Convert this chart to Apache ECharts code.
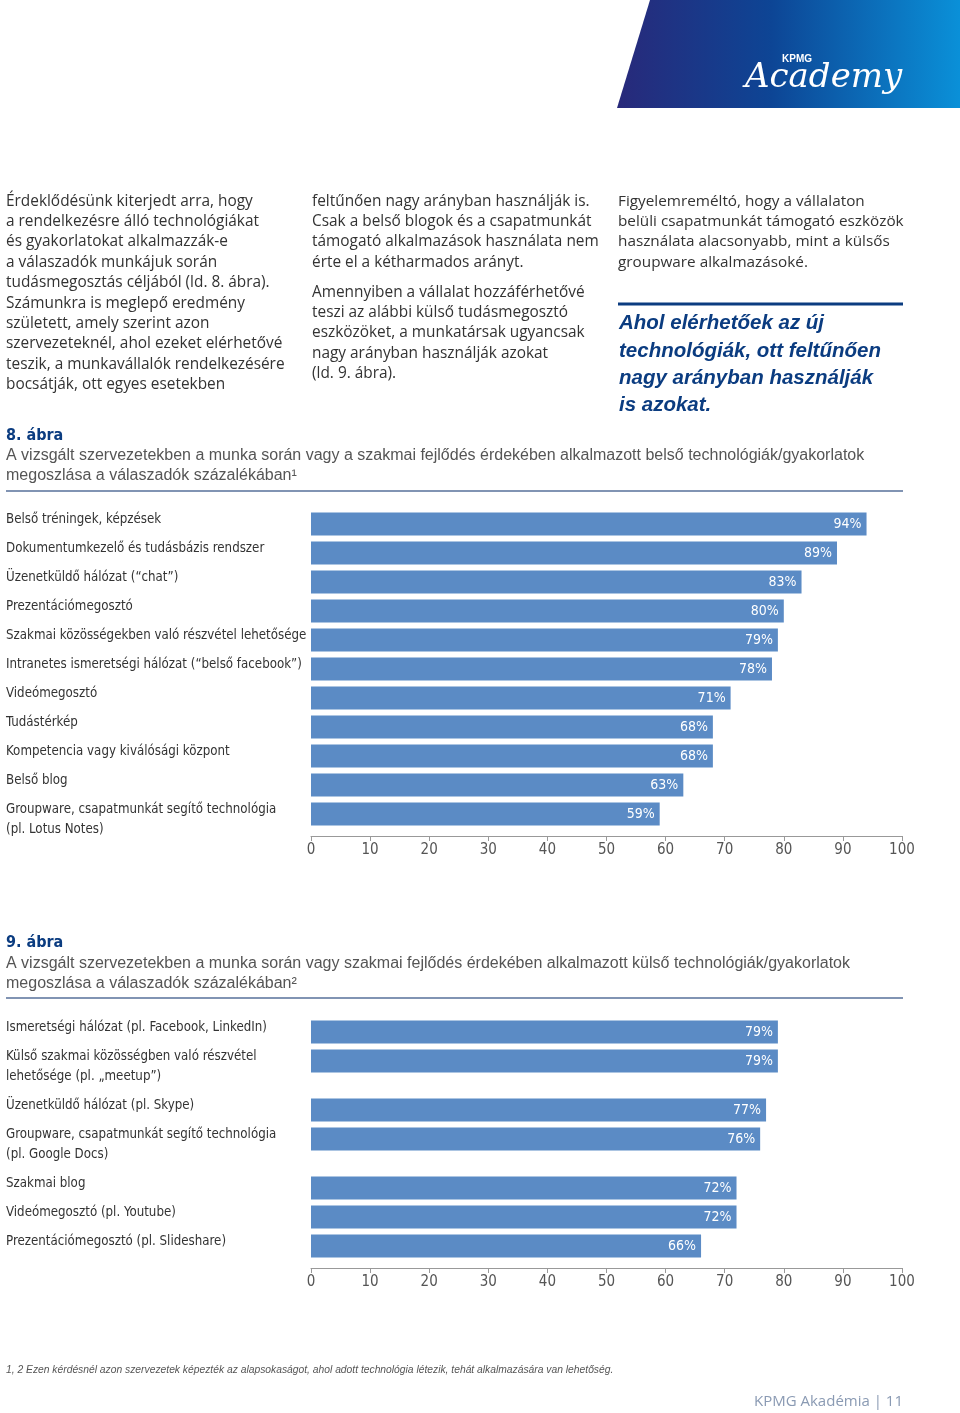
<!DOCTYPE html>
<html><head><meta charset="utf-8">
<script src="https://cdn.jsdelivr.net/npm/echarts@6/dist/echarts.min.js"></script>
<style>html,body{margin:0;padding:0;background:#fff}#c{width:960px;height:1413px}</style>
</head><body><div id="c"></div><script>
// ---- data ----
const intLabels = [
  'Belső tréningek, képzések',
  'Dokumentumkezelő és tudásbázis rendszer',
  'Üzenetküldő hálózat (“chat”)',
  'Prezentációmegosztó',
  'Szakmai közösségekben való részvétel lehetősége',
  'Intranetes ismeretségi hálózat (“belső facebook”)',
  'Videómegosztó',
  'Tudástérkép',
  'Kompetencia vagy kiválósági központ',
  'Belső blog',
  'Groupware, csapatmunkát segítő technológia\n(pl. Lotus Notes)'
];
const intValues = [94, 89, 83, 80, 79, 78, 71, 68, 68, 63, 59];

const extLabels = [
  'Ismeretségi hálózat (pl. Facebook, LinkedIn)',
  'Külső szakmai közösségben való részvétel\nlehetősége (pl. „meetup”)',
  'Üzenetküldő hálózat (pl. Skype)',
  'Groupware, csapatmunkát segítő technológia\n(pl. Google Docs)',
  'Szakmai blog',
  'Videómegosztó (pl. Youtube)',
  'Prezentációmegosztó (pl. Slideshare)'
];
const extValues = [79, 79, 77, 76, 72, 72, 66];
const extGroupSizes = [2, 2, 3];

const axisMin = 0, axisMax = 100, axisStep = 10;

// ---- page text ----
const col1 = ['Érdeklődésünk kiterjedt arra, hogy','a rendelkezésre álló technológiákat','és gyakorlatokat alkalmazzák-e','a válaszadók munkájuk során','tudásmegosztás céljából (ld. 8. ábra).','Számunkra is meglepő eredmény','született, amely szerint azon','szervezeteknél, ahol ezeket elérhetővé','teszik, a munkavállalók rendelkezésére','bocsátják, ott egyes esetekben'];
const col2a = ['feltűnően nagy arányban használják is.','Csak a belső blogok és a csapatmunkát','támogató alkalmazások használata nem','érte el a kétharmados arányt.'];
const col2b = ['Amennyiben a vállalat hozzáférhetővé','teszi az alábbi külső tudásmegosztó','eszközöket, a munkatársak ugyancsak','nagy arányban használják azokat','(ld. 9. ábra).'];
const col3 = ['Figyelemreméltó, hogy a vállalaton','belüli csapatmunkát támogató eszközök','használata alacsonyabb, mint a külsős','groupware alkalmazásoké.'];
const quote = ['Ahol elérhetőek az új','technológiák, ott feltűnően','nagy arányban használják','is azokat.'];
const fig8Title = '8. ábra';
const fig8Caption = ['A vizsgált szervezetekben a munka során vagy a szakmai fejlődés érdekében alkalmazott belső technológiák/gyakorlatok','megoszlása a válaszadók százalékában¹'];
const fig9Title = '9. ábra';
const fig9Caption = ['A vizsgált szervezetekben a munka során vagy szakmai fejlődés érdekében alkalmazott külső technológiák/gyakorlatok','megoszlása a válaszadók százalékában²'];
const footnote = '1, 2 Ezen kérdésnél azon szervezetek képezték az alapsokaságot, ahol adott technológia létezik, tehát alkalmazására van lehetőség.';
const footer = 'KPMG Akadémia | 11';

const NARROW = '"Liberation Sans Narrow", "DejaVu Sans Condensed", "Roboto Condensed", sans-serif';
const BODY = '"Open Sans", Lato, sans-serif';
const BAR = '#5b8bc5';

function txt(x, y, lines, font, fill, lh, extra) {
  return Object.assign({ type: 'text', x: x, y: y, silent: true,
    style: Object.assign({ text: lines.join('\n'), font: font, fill: fill, lineHeight: lh, verticalAlign: 'top', align: 'left' }, extra || {}) });
}

const graphic = [
  { type: 'polygon', silent: true, shape: { points: [[650,0],[960,0],[960,108],[617,108]] },
    style: { fill: new echarts.graphic.LinearGradient(0,0,1,0,[{offset:0,color:'#28297a'},{offset:0.45,color:'#0d4595'},{offset:1,color:'#0a90d8'}]) } },
  txt(782, 54, ['KPMG'], 'bold 10px "Liberation Sans", sans-serif', '#fff', 10),
  txt(745, 60, ['Academy'], 'italic 34px "DejaVu Serif", serif', '#fff', 36),
  txt(6, 191, col1, '15.4px ' + BODY, '#333', 20.4),
  txt(312, 191, col2a, '15.4px ' + BODY, '#333', 20.4),
  txt(312, 282, col2b, '15.4px ' + BODY, '#333', 20.4),
  txt(618, 191, col3, '15.3px ' + BODY, '#333', 20.4),
  { type: 'line', silent: true, shape: { x1: 618, y1: 304, x2: 903, y2: 304 }, style: { stroke: '#0b3c80', lineWidth: 3 } },
  txt(619, 310, quote, 'italic bold 20.5px "Liberation Sans", sans-serif', '#0b3c80', 27.3),
  txt(6, 427, [fig8Title], 'bold 16px ' + NARROW, '#0b3c80', 18),
  txt(6, 445, fig8Caption, '16px "Liberation Sans", sans-serif', '#555', 20.5),
  { type: 'line', silent: true, shape: { x1: 6, y1: 491, x2: 903, y2: 491 }, style: { stroke: '#8194b3', lineWidth: 2 } },
  txt(6, 934, [fig9Title], 'bold 16px ' + NARROW, '#0b3c80', 18),
  txt(6, 953, fig9Caption, '16px "Liberation Sans", sans-serif', '#555', 20.5),
  { type: 'line', silent: true, shape: { x1: 6, y1: 998, x2: 903, y2: 998 }, style: { stroke: '#8194b3', lineWidth: 2 } },
  txt(6, 1365, [footnote], 'italic 10.3px "Liberation Sans", sans-serif', '#555', 11),
  txt(903, 1394, [footer], '15px "Open Sans", sans-serif', '#8a9ab3', 16, { align: 'right' })
];

// ---- chart layout ----
const gridLeft = 311, gridWidth = 591, band = 29;
const grids = [{ left: gridLeft, width: gridWidth, top: 509.5, height: band * intValues.length }];
const extTops = [1017.5, 1095.5, 1173.5];
extGroupSizes.forEach((n, i) => grids.push({ left: gridLeft, width: gridWidth, top: extTops[i], height: band * n }));

function xAx(gi, show) {
  return { type: 'value', gridIndex: gi, min: axisMin, max: axisMax, interval: axisStep, show: show, offset: 7.5,
    axisLine: { show: true, lineStyle: { color: '#999', width: 1 } },
    axisTick: { show: true, length: 5, lineStyle: { color: '#999' } },
    axisLabel: { color: '#555', fontSize: 15, fontFamily: NARROW, margin: 7 },
    splitLine: { show: false } };
}
// category label: label lines sit slightly above the bar centre (spacer lines shift them)
function catLabel(v) {
  const lines = v.split('\n').map(l => '{t|' + l + '}');
  return lines.length > 1 ? '{s12| }\n' + lines.join('\n') : lines[0] + '\n{s8| }';
}
function yAx(gi, labels) {
  return { type: 'category', gridIndex: gi, inverse: true, data: labels,
    axisLine: { show: false }, axisTick: { show: false },
    axisLabel: { interval: 0, hideOverlap: false, align: 'left', margin: gridLeft - 6, formatter: catLabel,
      rich: {
        t: { color: '#333', fontSize: 13.2, fontFamily: NARROW, lineHeight: 20, align: 'left' },
        s8: { fontSize: 1, lineHeight: 8 },
        s12: { fontSize: 1, lineHeight: 12 }
      } } };
}
function barSeries(gi, values) {
  return { type: 'bar', xAxisIndex: gi, yAxisIndex: gi, data: values, barWidth: 23,
    itemStyle: { color: BAR }, silent: true,
    label: { show: true, position: 'insideRight', distance: 5, formatter: '{c}%', color: '#fff', fontSize: 14, fontFamily: NARROW } };
}

const xAxis = [xAx(0, true)], yAxis = [yAx(0, intLabels)], series = [barSeries(0, intValues)];
let start = 0;
extGroupSizes.forEach((n, i) => {
  const gi = i + 1;
  xAxis.push(xAx(gi, i === extGroupSizes.length - 1));
  yAxis.push(yAx(gi, extLabels.slice(start, start + n)));
  series.push(barSeries(gi, extValues.slice(start, start + n)));
  start += n;
});

const chart = echarts.init(document.getElementById('c'), null, { renderer: 'canvas' });
chart.setOption({ backgroundColor: '#fff', animation: false, grid: grids, xAxis: xAxis, yAxis: yAxis, series: series, graphic: graphic });
</script></body></html>
